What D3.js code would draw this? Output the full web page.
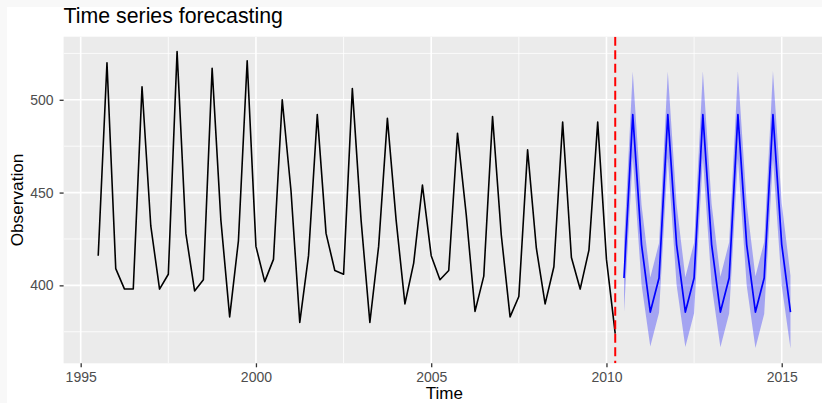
<!DOCTYPE html>
<html>
<head>
<meta charset="utf-8">
<script src="https://cdn.jsdelivr.net/npm/d3@7"></script>
<style>
  html, body { margin: 0; padding: 0; background: #f8f8f8; }
  svg { display: block; font-family: "Liberation Sans", Arial, sans-serif; }
</style>
</head>
<body>
<div id="chart"></div>
<script>
// quarterly observations, starting 1995 Q3
const obsStart = 1995.5
const observed = [416, 520,
  409, 398, 398, 507,
  432, 398, 406, 526,
  428, 397, 403, 517,
  435, 383, 424, 521,
  421, 402, 414, 500,
  451, 380, 416, 492,
  428, 408, 406, 506,
  435, 380, 421, 490,
  435, 390, 412, 454,
  416, 403, 408, 482,
  438, 386, 405, 491,
  427, 383, 394, 473,
  420, 390, 410, 488,
  415, 398, 419, 488,
  414, 374]

// forecast, starting 2010 Q3
const fcStart = 2010.5
const fcMean = [404, 492, 422, 385.6, 404, 492, 422, 385.6, 404, 492, 422, 385.6, 404, 492, 422, 385.6, 404, 492, 422, 385.6]
const fcLower = [385.5, 469, 400.5, 367, 385.2, 468.7, 400.3, 366.8, 385, 468.5, 400.1, 366.6, 384.8, 468.3, 400, 366.3, 384.6, 468.1, 399.8, 366]
const fcUpper = [422.5, 515.3, 443.5, 404.2, 422.8, 515.3, 443.7, 404.4, 423, 515.4, 443.9, 404.6, 423.2, 515.4, 444, 404.9, 423.4, 515.5, 444.2, 405.2]

const forecastOrigin = 2010.25
const xTicks = [1995, 2000, 2005, 2010, 2015]
const xMinor = [1997.5, 2002.5, 2007.5, 2012.5]
const yTicks = [400, 450, 500]
const yMinor = [375, 425, 475, 525]

const W = 822, H = 403
const panel = { left: 63.6, right: 825.1, top: 36.7, bottom: 363.3 }

const obsData = observed.map((v, i) => ({ t: obsStart + i / 4, v: v }))
const fcData = fcMean.map((v, i) => ({ t: fcStart + i / 4, v: v, lo: fcLower[i], hi: fcUpper[i] }))

// ggplot-like 5% expansion
const expand = (ext) => { const r = ext[1] - ext[0]; return [ext[0] - 0.05 * r, ext[1] + 0.05 * r] }
const xExt = [obsData[0].t, fcData[fcData.length - 1].t]
const yExt = [d3.min([d3.min(observed), d3.min(fcLower)]), d3.max([d3.max(observed), d3.max(fcUpper)])]

const x = d3.scaleLinear().domain(expand(xExt)).range([panel.left, panel.right])
const y = d3.scaleLinear().domain(expand(yExt)).range([panel.bottom, panel.top])

const svg = d3.select("#chart").append("svg").attr("width", W).attr("height", H)

// the off-white strips at top/left of the reference
svg.append("rect").attr("x", 0).attr("y", 0).attr("width", W).attr("height", H).attr("fill", "#f8f8f8")
svg.append("rect").attr("x", 7).attr("y", 7).attr("width", W - 7).attr("height", H - 7).attr("fill", "#ffffff")

svg.append("defs").append("clipPath").attr("id", "clip")
  .append("rect").attr("x", panel.left).attr("y", panel.top)
  .attr("width", panel.right - panel.left).attr("height", panel.bottom - panel.top)

svg.append("rect")
  .attr("x", panel.left).attr("y", panel.top)
  .attr("width", panel.right - panel.left).attr("height", panel.bottom - panel.top)
  .attr("fill", "#ebebeb")

const grid = svg.append("g").attr("clip-path", "url(#clip)")
grid.selectAll("line.xmin").data(xMinor).enter().append("line")
  .attr("x1", d => x(d)).attr("x2", d => x(d)).attr("y1", panel.top).attr("y2", panel.bottom)
  .attr("stroke", "#fff").attr("stroke-width", 0.8)
grid.selectAll("line.ymin").data(yMinor).enter().append("line")
  .attr("y1", d => y(d)).attr("y2", d => y(d)).attr("x1", panel.left).attr("x2", panel.right)
  .attr("stroke", "#fff").attr("stroke-width", 0.8)
grid.selectAll("line.xmaj").data(xTicks).enter().append("line")
  .attr("x1", d => x(d)).attr("x2", d => x(d)).attr("y1", panel.top).attr("y2", panel.bottom)
  .attr("stroke", "#fff").attr("stroke-width", 1.6)
grid.selectAll("line.ymaj").data(yTicks).enter().append("line")
  .attr("y1", d => y(d)).attr("y2", d => y(d)).attr("x1", panel.left).attr("x2", panel.right)
  .attr("stroke", "#fff").attr("stroke-width", 1.6)

const plot = svg.append("g").attr("clip-path", "url(#clip)")

const band = d3.area().x(d => x(d.t)).y0(d => y(d.lo)).y1(d => y(d.hi))
plot.append("path").datum(fcData).attr("d", band).attr("fill", "blue").attr("fill-opacity", 0.3)

const line = d3.line().x(d => x(d.t)).y(d => y(d.v))
plot.append("path").datum(obsData).attr("d", line)
  .attr("fill", "none").attr("stroke", "#000").attr("stroke-width", 1.6).attr("stroke-linejoin", "round")
plot.append("path").datum(fcData).attr("d", line)
  .attr("fill", "none").attr("stroke", "blue").attr("stroke-width", 1.7).attr("stroke-linejoin", "round")

plot.append("line")
  .attr("x1", x(forecastOrigin)).attr("x2", x(forecastOrigin))
  .attr("y1", panel.top).attr("y2", panel.bottom)
  .attr("stroke", "red").attr("stroke-width", 2).attr("stroke-dasharray", "9,4.5")

// axes
const xAxis = svg.append("g").attr("transform", "translate(0," + panel.bottom + ")")
  .call(d3.axisBottom(x).tickValues(xTicks).tickFormat(d3.format("d")).tickSize(4).tickPadding(4.6))
const yAxis = svg.append("g").attr("transform", "translate(" + panel.left + ",0)")
  .call(d3.axisLeft(y).tickValues(yTicks).tickSize(4).tickPadding(6))
;[xAxis, yAxis].forEach(a => {
  a.select(".domain").remove()
  a.selectAll(".tick line").attr("stroke", "#333333").attr("stroke-width", 1.3)
  a.selectAll(".tick text").attr("fill", "#4d4d4d").style("font-size", "14px")
})

svg.append("text")
  .attr("x", (panel.left + panel.right) / 2).attr("y", 399.2)
  .attr("text-anchor", "middle").style("font-size", "17px").attr("fill", "#000")
  .text("Time")

svg.append("text")
  .attr("transform", "translate(22.5," + (panel.top + panel.bottom) / 2 + ") rotate(-90)")
  .attr("text-anchor", "middle").style("font-size", "17.2px").attr("fill", "#000")
  .text("Observation")

svg.append("text")
  .attr("x", panel.left).attr("y", 23.3)
  .style("font-size", "21.3px").attr("fill", "#000")
  .text("Time series forecasting")
</script>
</body>
</html>
